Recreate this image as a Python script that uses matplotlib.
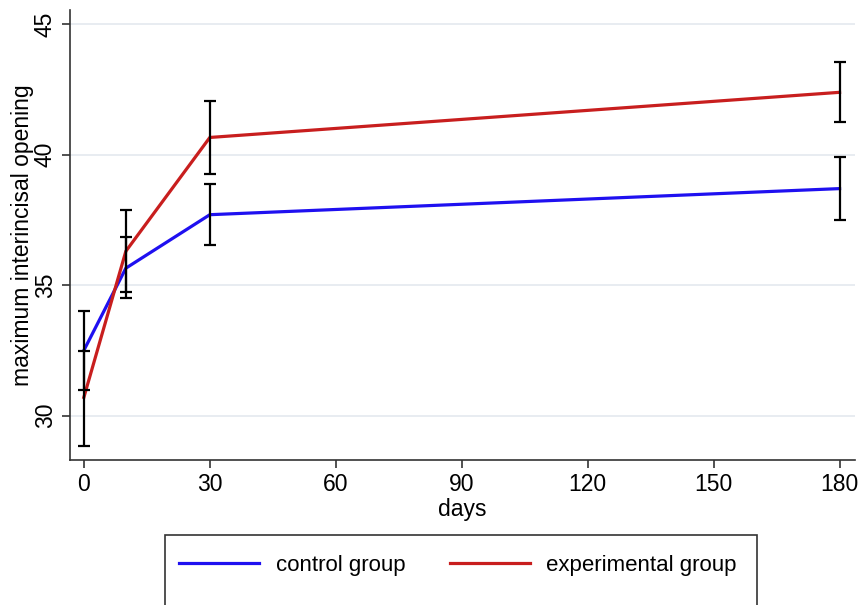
import numpy as np
import matplotlib.pyplot as plt
from matplotlib.patches import Rectangle

plt.rcParams['font.family'] = ['Liberation Sans', 'DejaVu Sans']

days = [0, 10, 30, 180]
control_mean = [32.5, 35.65, 37.7, 38.7]
control_lo = [31.0, 34.5, 36.54, 37.5]
control_hi = [34.0, 36.85, 38.86, 39.9]
exper_mean = [30.7, 36.3, 40.66, 42.39]
exper_lo = [28.83, 34.74, 39.26, 41.25]
exper_hi = [32.46, 37.88, 42.05, 43.55]

fig = plt.figure(figsize=(8.59, 6.05), dpi=100)
ax = fig.add_axes([0.0815, 0.2397, 0.9135, 0.744])

blue = '#1f10f0'
red = '#c81e1e'

ax.plot(days, control_mean, color=blue, lw=2.3, label='control group', zorder=3)
ax.plot(days, exper_mean, color=red, lw=2.3, label='experimental group', zorder=3)

for m, lo, hi in [(control_mean, control_lo, control_hi), (exper_mean, exper_lo, exper_hi)]:
    m = np.array(m)
    err = [m - np.array(lo), np.array(hi) - m]
    ax.errorbar(days, m, yerr=err, fmt='none', ecolor='black', elinewidth=1.6,
                capsize=4.5, capthick=1.6, zorder=4)

ax.set_xlim(-3.3, 183.6)
ax.set_ylim(28.3, 45.55)
ax.set_xticks([0, 30, 60, 90, 120, 150, 180])
ax.set_yticks([30, 35, 40, 45])
ax.grid(axis='y', color='#e4e9ef', lw=1.2)
ax.set_axisbelow(True)

for s in ['top', 'right']:
    ax.spines[s].set_visible(False)
for s in ['left', 'bottom']:
    ax.spines[s].set_color('#333333')
    ax.spines[s].set_linewidth(1.2)

ax.tick_params(axis='both', direction='out', length=6, width=1.2, color='#333333', labelsize=16.5)
for lab in ax.get_yticklabels():
    lab.set_rotation(90)
    lab.set_va('center')

ax.set_xlabel('days', fontsize=16.5, labelpad=1)
ax.set_ylabel('maximum interincisal opening', fontsize=16.5, labelpad=0)

leg = fig.legend(loc='center', bbox_to_anchor=(0.533, 1 - 565 / 605), ncol=2,
                 frameon=False, fontsize=16, handlelength=3.6, columnspacing=2.0,
                 handletextpad=0.75)
for h in leg.get_lines():
    h.set_linewidth(2.3)

fig.patches.append(Rectangle((165 / 859, -0.05), (757 - 165) / 859, 0.05 + (605 - 535) / 605,
                             transform=fig.transFigure, fill=False, edgecolor='#333333',
                             lw=1.2, clip_on=False))

fig.savefig('out.png', dpi=100)
